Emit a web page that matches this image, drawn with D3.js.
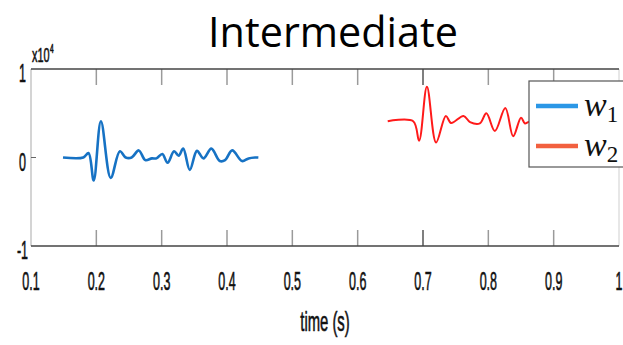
<!DOCTYPE html>
<html>
<head>
<meta charset="utf-8">
<script src="https://cdn.jsdelivr.net/npm/d3@7"></script>
<style>
  body { margin: 0; background: #fff; }
  svg { display: block; }
</style>
</head>
<body>
<div class="chart"></div>
<script>
// values in units of 1e4
var w1Time = [0.149, 0.180, 0.188, 0.196, 0.207, 0.222, 0.236, 0.245, 0.254, 0.265, 0.275,
  0.285, 0.292, 0.301, 0.309, 0.319, 0.326, 0.333, 0.343, 0.354, 0.364, 0.376, 0.389,
  0.397, 0.408, 0.423, 0.433, 0.443, 0.448];
var w1Value = [0.0, 0.0, 0.05, -0.26, 0.41, -0.23, 0.07, 0.0, 0.0, 0.08, -0.03,
  -0.01, -0.01, 0.04, -0.06, 0.07, 0.02, 0.10, -0.14, 0.075, -0.01, 0.10, -0.04,
  -0.03, 0.08, -0.04, -0.01, 0.0, 0.0];

var w2Time = [0.646, 0.685, 0.694, 0.706, 0.720, 0.735, 0.743, 0.762, 0.772, 0.787,
  0.797, 0.810, 0.826, 0.838, 0.850, 0.856, 0.861, 0.875, 0.890, 0.905];
var w2Value = [0.41, 0.41, 0.19, 0.80, 0.17, 0.47, 0.39, 0.47, 0.40, 0.385,
  0.50, 0.30, 0.56, 0.24, 0.45, 0.385, 0.40, 0.43, 0.40, 0.41];

var xTicks = [0.1, 0.2, 0.3, 0.4, 0.5, 0.6, 0.7, 0.8, 0.9, 1];
var xTickLabels = ['0.1', '0.2', '0.3', '0.4', '0.5', '0.6', '0.7', '0.8', '0.9', '1'];
var yTicks = [-1, 0, 1];
var yTickLabels = ['-1', '0', '1'];
var seriesNames = ['1', '2'];

const width = 623, height = 345;
const margin = { top: 69, right: 4, bottom: 99, left: 31 };

var svg = d3.select('.chart').append('svg')
  .attr('width', width)
  .attr('height', height);

var x = d3.scaleLinear().domain([0.1, 1]).range([margin.left, width - margin.right]);
var y = d3.scaleLinear().domain([-1, 1]).range([height - margin.bottom, margin.top]);

// title
svg.append('text')
  .attr('x', 333).attr('y', 47)
  .attr('text-anchor', 'middle')
  .attr('font-family', 'Open Sans, sans-serif')
  .attr('font-size', 42)
  .attr('textLength', 250)
  .attr('lengthAdjust', 'spacingAndGlyphs')
  .text('Intermediate');

// frame
var x0 = x(0.1), x1 = x(1), yT = y(1), yB = y(-1);
svg.append('line').attr('x1', x0).attr('x2', x0).attr('y1', yT).attr('y2', yB)
  .attr('stroke', '#b8b8b8').attr('stroke-width', 1.2);
svg.append('line').attr('x1', x1).attr('x2', x1).attr('y1', yT).attr('y2', yB)
  .attr('stroke', '#cfcfcf').attr('stroke-width', 1);

// inward ticks top and bottom
var tickG = svg.append('g');
xTicks.slice(1, -1).forEach(function (t) {
  tickG.append('line').attr('x1', x(t)).attr('x2', x(t)).attr('y1', yT).attr('y2', yT + 16)
    .attr('stroke', t === 0.7 ? '#555' : '#9a9a9a').attr('stroke-width', 1.5);
  tickG.append('line').attr('x1', x(t)).attr('x2', x(t)).attr('y1', yB).attr('y2', yB - 16)
    .attr('stroke', t === 0.7 ? '#555' : '#9a9a9a').attr('stroke-width', 1.5);
});
svg.append('line').attr('x1', x0).attr('x2', x0 + 5).attr('y1', y(0)).attr('y2', y(0))
  .attr('stroke', '#666').attr('stroke-width', 1);

svg.append('line').attr('x1', x0).attr('x2', x1).attr('y1', yT).attr('y2', yT)
  .attr('stroke', '#444').attr('stroke-width', 1.6);
svg.append('line').attr('x1', x0).attr('x2', x1).attr('y1', yB).attr('y2', yB)
  .attr('stroke', '#444').attr('stroke-width', 1.6);

// tick labels (narrow, tall)
function narrow(g, px, py, str, size, sx, anchor) {
  g.append('text')
    .attr('transform', 'translate(' + px + ',' + py + ') scale(' + sx + ',1)')
    .attr('text-anchor', anchor || 'middle')
    .attr('font-family', 'Liberation Sans, Arial, sans-serif')
    .attr('font-size', size)
    .attr('fill', '#111')
    .attr('stroke', '#111').attr('stroke-width', 0.6)
    .text(str);
}
var lab = svg.append('g');
xTicks.forEach(function (t, i) {
  narrow(lab, x(t), 290, xTickLabels[i], 25, 0.5);
});
yTicks.forEach(function (t, i) {
  narrow(lab, 22.5, y(t) + 13, yTickLabels[i], 25, 0.5);
});
narrow(lab, 32, 62, 'x10', 21, 0.52, 'start');
narrow(lab, 50, 53, '4', 12, 0.55, 'start');
narrow(lab, 325, 331, 'time (s)', 27, 0.55);

// waves
var line = d3.line()
  .x(function (d) { return x(d[0]); })
  .y(function (d) { return y(d[1]); })
  .curve(d3.curveCatmullRom.alpha(0.5));

svg.append('path')
  .datum(d3.zip(w1Time, w1Value))
  .attr('d', line)
  .attr('fill', 'none')
  .attr('stroke', '#1672c4')
  .attr('stroke-width', 2.6);

svg.append('path')
  .datum(d3.zip(w2Time, w2Value))
  .attr('d', line)
  .attr('fill', 'none')
  .attr('stroke', '#ff1a1a')
  .attr('stroke-width', 2);

// legend
var leg = svg.append('g');
leg.append('rect')
  .attr('x', 529).attr('y', 81).attr('width', 100).attr('height', 86)
  .attr('fill', '#fff').attr('stroke', '#555').attr('stroke-width', 1.2);
var legColors = ['#2b97e6', '#f2603f'];
seriesNames.forEach(function (s, i) {
  var ly = 106 + i * 40;
  leg.append('line').attr('x1', 536).attr('x2', 578).attr('y1', ly).attr('y2', ly)
    .attr('stroke', legColors[i]).attr('stroke-width', 4.5);
  var t = leg.append('text')
    .attr('x', 584).attr('y', ly + 10)
    .attr('font-family', 'Liberation Serif, serif')
    .attr('font-style', 'italic')
    .attr('font-size', 34)
    .attr('fill', '#111');
  t.append('tspan').text('w');
  t.append('tspan').attr('dy', 6).attr('font-style', 'normal')
    .attr('font-size', 23).text(s);
});
</script>
</body>
</html>
